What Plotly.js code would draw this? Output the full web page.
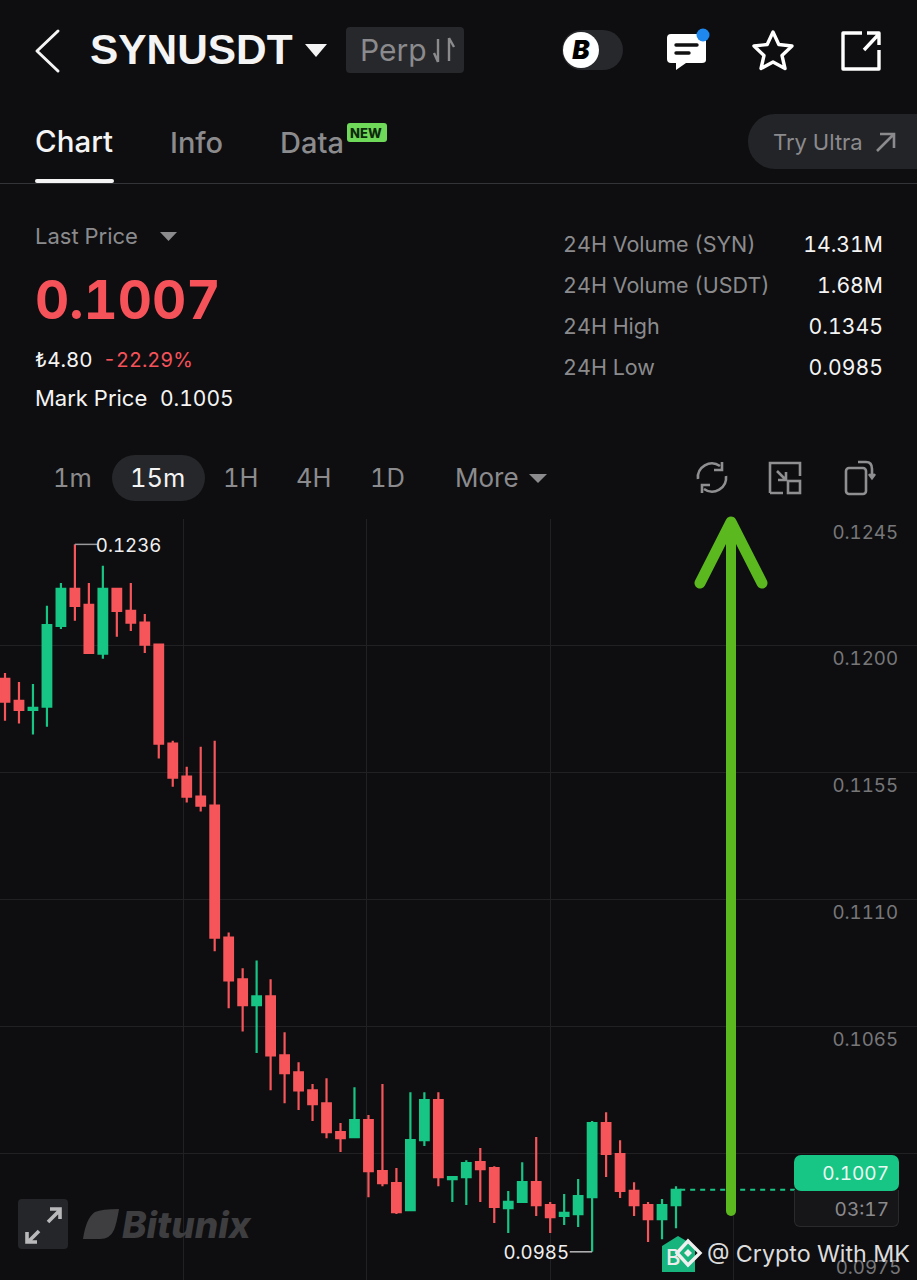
<!DOCTYPE html>
<html><head><meta charset="utf-8">
<script src="https://cdn.plot.ly/plotly-3.0.1.min.js"></script>
<style>
html,body{margin:0;padding:0;background:#0e0e10;width:917px;height:1280px;overflow:hidden;font-family:Inter,"Noto Sans",sans-serif;font-variant-numeric:tabular-nums}
#chart{position:absolute;left:0;top:0;width:917px;height:1280px}
#chart text{font-feature-settings:"tnum" 1}
#ui{position:absolute;left:0;top:0;width:917px;height:1280px;pointer-events:none}
#ui svg{position:absolute;left:0;top:0}
.t{position:absolute;white-space:nowrap;transform:translateY(-50%);line-height:1}
.r{transform:translate(-100%,-50%)}
.box{position:absolute}
.g{color:#8b8b8e}.w{color:#f4f4f4}
</style></head><body>
<div id="chart"></div>
<div id="ui">
 <div class="box" style="left:346px;top:27px;width:118px;height:46px;background:#27282b;border-radius:4px"></div>
 <div class="box" style="left:562px;top:30px;width:61px;height:40px;background:#27282b;border-radius:20px"></div>
 <div class="box" style="left:748px;top:114px;width:169px;height:55px;background:#232427;border-radius:27px 0 0 27px"></div>
 <div class="box" style="left:0;top:183px;width:917px;height:1px;background:#333437"></div>
 <div class="box" style="left:35px;top:179px;width:79px;height:4px;background:#f4f4f4;border-radius:2px"></div>
 <div class="box" style="left:347px;top:123px;width:40px;height:19px;background:#6fd95a;border-radius:3px"></div>
 <div class="box" style="left:112px;top:455px;width:93px;height:46px;background:#26272a;border-radius:23px"></div>
 <div class="box" style="left:18px;top:1199px;width:50px;height:50px;background:#252629;border-radius:4px"></div>
 <div class="box" style="left:794px;top:1190px;width:105px;height:37px;background:#161618;border:1px solid #2a2a2c;border-top:none;box-sizing:border-box;border-radius:0 0 6px 6px"></div>
 <div class="box" style="left:794px;top:1155px;width:105px;height:36px;background:#17c585;border-radius:7px"></div>

 <svg width="917" height="1280" viewBox="0 0 917 1280">
  <g fill="none" stroke="#f4f4f4" stroke-width="3" stroke-linecap="round" stroke-linejoin="round">
   <path d="M58 31 L37 51 L58 71"/>
  </g>
  <path d="M305 44 H327 L316 57 Z" fill="#f4f4f4"/>
  <g fill="none" stroke="#8b8b8e" stroke-width="2.4">
   <path d="M438 62 V39 M438 62 L434 53 M449 38 V61 M449 38 L454 47"/>
  </g>
  <circle cx="581" cy="50" r="18" fill="#fff"/>
  <path d="M667 38 Q667 34 671 34 H702 Q706 34 706 38 V60 Q706 63 702 63 H686 L676 70 V63 H671 Q667 63 667 59 Z" fill="#fff"/>
  <path d="M676 45 H697 M676 53 H689" stroke="#111" stroke-width="3.4" stroke-linecap="round"/>
  <circle cx="703" cy="35" r="6.5" fill="#1e88ee"/>
  <path d="M773 32 L778.8 44.5 L792 46 L782 55.5 L785 68.5 L773 62 L761 68.5 L764 55.5 L754 46 L767.2 44.5 Z" fill="none" stroke="#fff" stroke-width="3.4" stroke-linejoin="round"/>
  <path d="M862 33 H843 V69 H879 V50 M864 50 L878 35 M867 33 H879 V45" fill="none" stroke="#fff" stroke-width="3.4" stroke-linejoin="round"/>
  <path d="M877 151 L893 135 M880 134 H894 V148" fill="none" stroke="#8b8b8e" stroke-width="2.6"/>
  <path d="M160 232 H177 L168.5 241 Z" fill="#8b8b8e"/>
  <path d="M529 474 H547 L538 483 Z" fill="#8b8b8e"/>
  <g fill="none" stroke="#8f8f92" stroke-width="2.6">
   <path d="M698 479 A14 14 0 0 1 720 466 M726 476 A14 14 0 0 1 704 489"/>
   <path d="M722 462 V470 H714 M702 493 V485 H710"/>
   <path d="M770 493 V463 H800 V476 M770 493 H783"/>
   <path d="M777 471 L786 480 M786 472 V480 H778"/>
   <rect x="788" y="481" width="12" height="12"/>
   <rect x="846" y="468" width="20" height="26" rx="3"/>
   <path d="M858 462 H866 Q872 462 872 469 V478 M869 474 L872 478 L875 474"/>
  </g>
  <g fill="none" stroke="#b9b9bb" stroke-width="3.6">
   <path d="M48 1222 L60 1210 M50 1209 H60 V1219"/>
   <path d="M39 1231 L28 1242 M27 1232 V1242 H37"/>
  </g>
  <path d="M83 1239 Q86 1218 95 1212 Q102 1209 119 1209 Q117 1222 114 1230 Q110 1239 100 1239 Z" fill="#3e3e40"/>
  <path d="M662 1246 L678 1236 L695 1246 V1272 H662 Z" fill="#17b57d"/>
  <g fill="none" stroke="#f0f0f0" stroke-width="3.4">
   <path d="M677 1253 L688 1241 L700 1253 L688 1265 Z"/>
  </g>
  <path d="M684 1253 L688 1249 L692 1253 L688 1257 Z" fill="#f0f0f0"/>
  <g fill="none" stroke="#5cb81f" stroke-linecap="round" stroke-linejoin="round">
   <path d="M731 524 V1211" stroke-width="10"/>
   <path d="M700 583 L731 522 L762 583" stroke-width="11"/>
  </g>
 </svg>

 <span class="t w" style="left:90px;top:50px;font-size:42.4px;font-weight:700;font-family:'Liberation Sans'">SYNUSDT</span>
 <span class="t g" style="left:360px;top:50px;font-size:30px">Perp</span>
 <span class="t" style="left:581px;top:50px;transform:translate(-50%,-50%);font-size:26px;font-weight:900;font-style:italic;color:#000">B</span>
 <span class="t w" style="left:35px;top:142px;font-size:29.5px;font-weight:500">Chart</span>
 <span class="t g" style="left:170px;top:142px;font-size:29px;font-weight:500">Info</span>
 <span class="t g" style="left:280px;top:142px;font-size:29px;font-weight:500">Data</span>
 <span class="t" style="left:350px;top:133px;font-size:13px;font-weight:800;color:#0d2a0a">NEW</span>
 <span class="t g" style="left:773px;top:142px;font-size:22px">Try Ultra</span>

 <span class="t g" style="left:35px;top:236px;font-size:22px">Last Price</span>
 <span class="t" style="left:35px;top:300px;font-size:53px;font-weight:700;color:#f6525a">0.1007</span>
 <span class="t w" style="left:35px;top:360px;font-size:20.5px">₺4.80</span>
 <span class="t" style="left:103px;top:360px;font-size:20px;color:#f6525a">-22.29%</span>
 <span class="t w" style="left:35px;top:398px;font-size:22px">Mark Price</span>
 <span class="t w" style="left:160px;top:398px;font-size:21px">0.1005</span>

 <span class="t g" style="left:563px;top:245px;font-size:21.5px">24H Volume (SYN)</span>
 <span class="t g" style="left:563px;top:286px;font-size:21.5px">24H Volume (USDT)</span>
 <span class="t g" style="left:563px;top:327px;font-size:21.5px">24H High</span>
 <span class="t g" style="left:563px;top:368px;font-size:21.5px">24H Low</span>
 <span class="t r w" style="left:883px;top:245px;font-size:21.2px">14.31M</span>
 <span class="t r w" style="left:883px;top:286px;font-size:21.2px">1.68M</span>
 <span class="t r w" style="left:883px;top:327px;font-size:21.2px">0.1345</span>
 <span class="t r w" style="left:883px;top:368px;font-size:21.2px">0.0985</span>

 <span class="t g" style="left:53px;top:478px;font-size:25.5px">1m</span>
 <span class="t w" style="left:130px;top:478px;font-size:25.5px">15m</span>
 <span class="t g" style="left:223px;top:478px;font-size:25.5px">1H</span>
 <span class="t g" style="left:296px;top:478px;font-size:25.5px">4H</span>
 <span class="t g" style="left:370px;top:478px;font-size:25.5px">1D</span>
 <span class="t g" style="left:455px;top:478px;font-size:26px">More</span>

 <span class="t" style="left:122px;top:1224px;font-size:37px;font-weight:800;font-style:italic;color:#3e3e40">Bitunix</span>
 <span class="t" style="left:666px;top:1257px;font-size:22px;font-weight:500;color:#ececec">B</span>
 <span class="t r" style="left:889px;top:1173px;font-size:19px;color:#eafaf3">0.1007</span>
 <span class="t r g" style="left:889px;top:1209px;font-size:19px">03:17</span>
 <span class="t" style="left:707px;top:1254px;font-size:23.3px;color:#dcdcdc">@ Crypto With MK</span>
</div>
<script>
const candleIndex = Array.from({length:49},(_,k)=>k);
const openPrice = [0.11883,0.11805,0.11773,0.11784,0.12071,0.12202,0.12145,0.11972,0.12202,0.12124,0.12082,0.12004,0.11653,0.11536,0.11465,0.11433,0.10965,0.10817,0.10725,0.10756,0.10547,0.10487,0.10423,0.10377,0.10275,0.10257,0.10317,0.10136,0.10094,0.09998,0.10246,0.10388,0.10108,0.10115,0.10168,0.10147,0.10005,0.10027,0.10097,0.10016,0.09977,0.09984,0.10044,0.10307,0.10197,0.10066,0.10016,0.09966,0.10016];
const highPrice = [0.11904,0.11872,0.11865,0.12142,0.12223,0.12360,0.12223,0.12284,0.12202,0.12223,0.12113,0.12004,0.11663,0.11571,0.11642,0.11663,0.10983,0.10856,0.10884,0.10817,0.10629,0.10523,0.10445,0.10466,0.10307,0.10434,0.10335,0.10445,0.10147,0.10416,0.10416,0.10416,0.10115,0.10175,0.10218,0.10154,0.10066,0.10168,0.10257,0.10027,0.10055,0.10108,0.10314,0.10345,0.10246,0.10097,0.10027,0.10037,0.10083];
const lowPrice = [0.11734,0.11724,0.11685,0.11713,0.12060,0.12089,0.11972,0.11954,0.12032,0.12053,0.11975,0.11600,0.11500,0.11444,0.11412,0.10916,0.10714,0.10632,0.10555,0.10423,0.10377,0.10353,0.10314,0.10253,0.10204,0.10257,0.10044,0.10083,0.09984,0.09998,0.10225,0.10083,0.10027,0.10016,0.10027,0.09952,0.09917,0.10027,0.09977,0.09917,0.09945,0.09938,0.09850,0.10115,0.10041,0.09977,0.09885,0.09895,0.09934];
const closePrice = [0.11802,0.11773,0.11780,0.12074,0.12202,0.12142,0.11975,0.12202,0.12124,0.12082,0.12004,0.11653,0.11532,0.11465,0.11433,0.10965,0.10813,0.10725,0.10756,0.10547,0.10484,0.10423,0.10374,0.10275,0.10253,0.10317,0.10136,0.10094,0.09991,0.10246,0.10388,0.10115,0.10115,0.10165,0.10143,0.10009,0.10027,0.10097,0.10016,0.09973,0.09988,0.10048,0.10307,0.10197,0.10066,0.10016,0.09966,0.10016,0.10070];
const priceTicks = [0.1245,0.1200,0.1155,0.1110,0.1065,0.1020];
const priceLabels = ['0.1245','0.1200','0.1155','0.1110','0.1065',''];
const bottomTick = 0.0975, bottomLabel = '0.0975';
const timeGrid = [12.76,25.88,39.0,52.1];
const lastPrice = 0.1007, highMark = 0.1236, lowMark = 0.0985;
const highIdx = 5, lowIdx = 42;

const RED='#f6555a', GREEN='#17c585';
const trace = {type:'candlestick',x:candleIndex,open:openPrice,high:highPrice,low:lowPrice,close:closePrice,
  increasing:{line:{color:GREEN,width:2.2},fillcolor:GREEN},
  decreasing:{line:{color:RED,width:2.2},fillcolor:RED},
  whiskerwidth:0,hoverinfo:'skip',showlegend:false};
const layout = {
  width:917,height:1280,margin:{l:0,r:0,t:0,b:0},
  paper_bgcolor:'#0e0e10',plot_bgcolor:'#0e0e10',
  showlegend:false,boxmode:'overlay',boxgap:0.12,
  font:{family:'Inter, sans-serif'},
  xaxis:{type:'linear',range:[-0.358,65.24],rangeslider:{visible:false},tickmode:'array',tickvals:timeGrid,
    showticklabels:false,ticks:'',showgrid:true,gridcolor:'#212123',gridwidth:1,zeroline:false,showline:false,fixedrange:true},
  yaxis:{domain:[0,761/1280],range:[bottomTick,0.1245],side:'right',tickmode:'array',tickvals:priceTicks,ticktext:priceLabels,
    ticklabelposition:'inside',ticklabeloverflow:'allow',ticklabelstandoff:16,ticklabelshift:13,ticks:'',
    tickfont:{size:18.7,color:'#77777a',family:'Inter, sans-serif'},
    showgrid:true,gridcolor:'#212123',gridwidth:1,zeroline:false,showline:false,fixedrange:true},
  shapes:[
    {type:'line',xref:'x',yref:'y',x0:highIdx,x1:6.6,y0:highMark,y1:highMark,line:{color:'#9a9a9c',width:1.5}},
    {type:'line',xref:'x',yref:'y',x0:40.4,x1:lowIdx,y0:lowMark,y1:lowMark,line:{color:'#b9b9bb',width:1.5}},
    {type:'line',xref:'x',yref:'y',x0:48.3,x1:56.5,y0:lastPrice,y1:lastPrice,line:{color:GREEN,width:2,dash:'5px,5px'}}
  ],
  annotations:[
    {xref:'x',yref:'y',x:6.68,y:highMark,yshift:-1,text:'0.1236',showarrow:false,xanchor:'left',yanchor:'middle',font:{size:18.7,color:'#f0f0f0'}},
    {xref:'x',yref:'y',x:40.42,y:lowMark,yshift:-1,text:'0.0985',showarrow:false,xanchor:'right',yanchor:'middle',font:{size:18.7,color:'#f0f0f0'}},
    {xref:'paper',yref:'y',x:1,y:bottomTick,xshift:-16,yshift:13,text:bottomLabel,showarrow:false,xanchor:'right',yanchor:'middle',font:{size:18.7,color:'#77777a'}}
  ]
};
Plotly.newPlot('chart',[trace],layout,{displayModeBar:false,staticPlot:true});
</script>
</body></html>
